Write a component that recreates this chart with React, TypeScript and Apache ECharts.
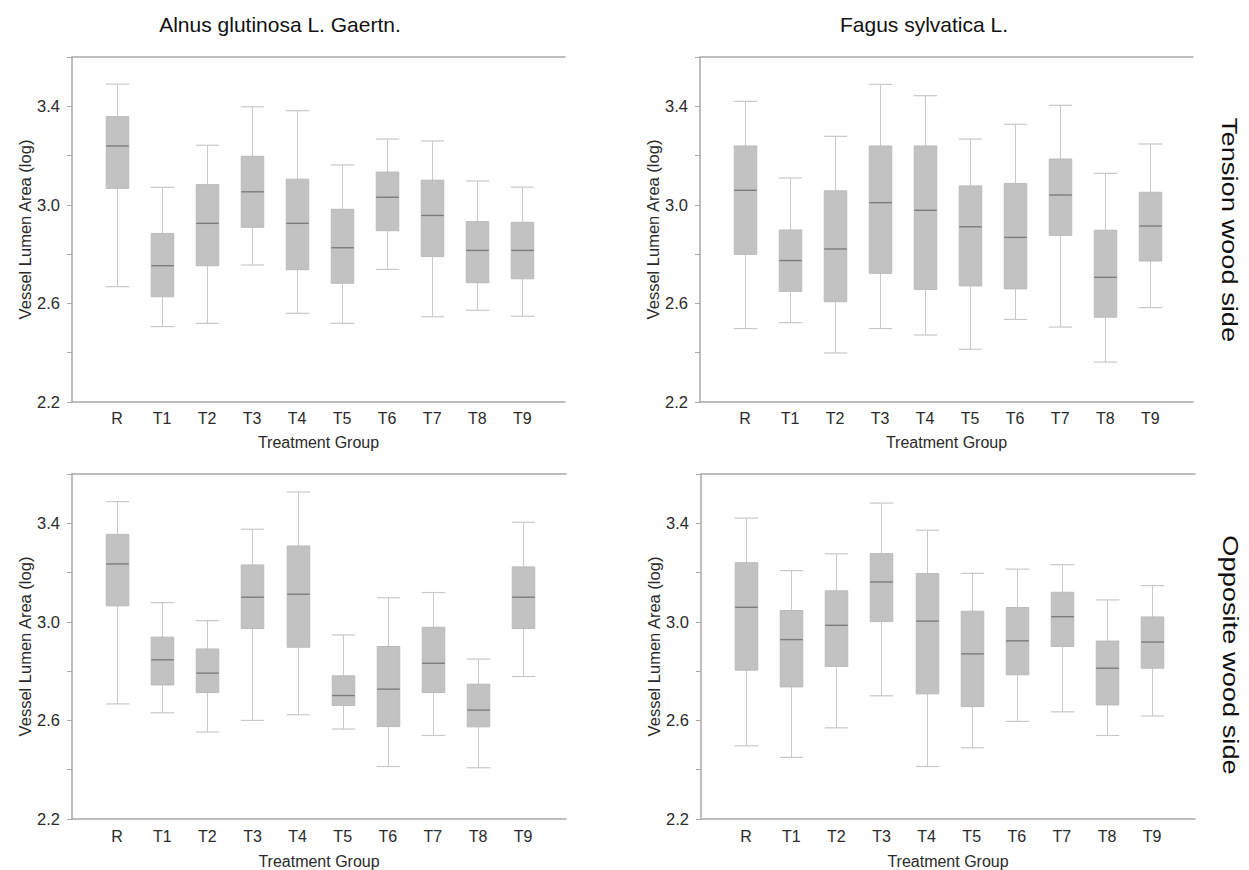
import React, { useEffect, useRef } from "react";
import * as echarts from "echarts";

const categories = ["R", "T1", "T2", "T3", "T4", "T5", "T6", "T7", "T8", "T9"];
const yTickLabels = [2.2, 2.6, 3.0, 3.4];
const panelTitles = ["Alnus glutinosa L. Gaertn.", "Fagus sylvatica L."];
const rowLabels = ["Tension wood side", "Opposite wood side"];
const xAxisName = "Treatment Group";
const yAxisName = "Vessel Lumen Area (log)";

// each entry: [min, Q1, median, Q3, max]
const alnusTension = [
  [2.668, 3.067, 3.239, 3.358, 3.49],
  [2.506, 2.627, 2.753, 2.884, 3.071],
  [2.519, 2.753, 2.925, 3.082, 3.242],
  [2.756, 2.909, 3.053, 3.197, 3.398],
  [2.56, 2.737, 2.925, 3.104, 3.382],
  [2.519, 2.682, 2.826, 2.982, 3.162],
  [2.738, 2.895, 3.031, 3.133, 3.267],
  [2.546, 2.79, 2.957, 3.1, 3.259],
  [2.572, 2.684, 2.815, 2.932, 3.097],
  [2.548, 2.7, 2.815, 2.929, 3.072],
];
const fagusTension = [
  [2.498, 2.799, 3.059, 3.239, 3.42],
  [2.522, 2.649, 2.774, 2.898, 3.109],
  [2.399, 2.607, 2.821, 3.057, 3.278],
  [2.498, 2.722, 3.009, 3.239, 3.489],
  [2.472, 2.657, 2.978, 3.239, 3.443],
  [2.414, 2.671, 2.911, 3.077, 3.267],
  [2.535, 2.659, 2.868, 3.087, 3.327],
  [2.504, 2.876, 3.04, 3.186, 3.404],
  [2.362, 2.544, 2.706, 2.897, 3.128],
  [2.583, 2.772, 2.914, 3.051, 3.247],
];
const alnusOpposite = [
  [2.667, 3.065, 3.235, 3.355, 3.488],
  [2.631, 2.744, 2.846, 2.938, 3.078],
  [2.553, 2.713, 2.792, 2.89, 3.005],
  [2.6, 2.973, 3.1, 3.231, 3.376],
  [2.623, 2.897, 3.112, 3.308, 3.527],
  [2.565, 2.661, 2.701, 2.781, 2.947],
  [2.413, 2.575, 2.727, 2.9, 3.098],
  [2.539, 2.713, 2.832, 2.978, 3.119],
  [2.408, 2.574, 2.642, 2.747, 2.849],
  [2.778, 2.973, 3.1, 3.223, 3.404],
];
const fagusOpposite = [
  [2.497, 2.804, 3.059, 3.24, 3.421],
  [2.45, 2.736, 2.928, 3.046, 3.208],
  [2.57, 2.819, 2.986, 3.126, 3.276],
  [2.7, 3.001, 3.162, 3.277, 3.482],
  [2.413, 2.708, 3.003, 3.196, 3.372],
  [2.489, 2.656, 2.87, 3.043, 3.197],
  [2.596, 2.785, 2.923, 3.058, 3.214],
  [2.635, 2.9, 3.021, 3.12, 3.232],
  [2.539, 2.663, 2.812, 2.922, 3.089],
  [2.618, 2.812, 2.918, 3.02, 3.147],
];

const panels = [alnusTension, fagusTension, alnusOpposite, fagusOpposite];

const FONT = "'Liberation Sans', Arial, Helvetica, sans-serif";
const AXIS_COLOR = "#a9a9a9";
const TEXT_COLOR = "#2a2a2a";
const BOX_FILL = "#c2c2c2";
const MEDIAN_COLOR = "#7c7c7c";
const WHISKER_COLOR = "#c9c9c9";

const grids = [
  { left: 72, top: 57, width: 493, height: 345 },
  { left: 700, top: 57, width: 493, height: 345 },
  { left: 72, top: 474, width: 494, height: 345 },
  { left: 701, top: 474, width: 494, height: 345 },
];
const xNameGaps = [32, 32, 34, 34];
const xLabelMargins = [8, 8, 9, 9];

function renderBox(params: any, api: any) {
  const x = api.value(0);
  const pMin = api.coord([x, api.value(1)]);
  const pQ1 = api.coord([x, api.value(2)]);
  const pMed = api.coord([x, api.value(3)]);
  const pQ3 = api.coord([x, api.value(4)]);
  const pMax = api.coord([x, api.value(5)]);
  const w = api.size([1, 0])[0] * 0.5;
  const cx = Math.round(pMed[0]) + 0.5;
  const capW = w * 1.04;
  return {
    type: "group",
    children: [
      {
        type: "line",
        shape: { x1: cx, y1: pMin[1], x2: cx, y2: pMax[1] },
        style: { stroke: WHISKER_COLOR, lineWidth: 1 },
      },
      {
        type: "line",
        shape: { x1: cx - capW / 2, y1: pMin[1], x2: cx + capW / 2, y2: pMin[1] },
        style: { stroke: WHISKER_COLOR, lineWidth: 1.2 },
      },
      {
        type: "line",
        shape: { x1: cx - capW / 2, y1: pMax[1], x2: cx + capW / 2, y2: pMax[1] },
        style: { stroke: WHISKER_COLOR, lineWidth: 1.2 },
      },
      {
        type: "rect",
        shape: { x: cx - w / 2, y: pQ3[1], width: w, height: pQ1[1] - pQ3[1] },
        style: { fill: BOX_FILL, stroke: "#bababa", lineWidth: 1 },
      },
      {
        type: "line",
        shape: { x1: cx - w / 2, y1: pMed[1], x2: cx + w / 2, y2: pMed[1] },
        style: { stroke: MEDIAN_COLOR, lineWidth: 1.4 },
      },
    ],
  };
}

function yLabel(v: number) {
  for (const t of yTickLabels) {
    if (Math.abs(v - t) < 1e-6) return t.toFixed(1);
  }
  return "";
}

function xLabel(v: number) {
  const i = Math.round(v);
  if (Math.abs(v - i) < 1e-6 && i >= 0 && i < categories.length) return categories[i];
  return "";
}

export default function App() {
  const ref = useRef<HTMLDivElement>(null);
  useEffect(() => {
    if (!ref.current) return;
    const chart = echarts.init(ref.current, null, { renderer: "svg" });

    const xAxes: any[] = [];
    const yAxes: any[] = [];
    const series: any[] = [];
    grids.forEach((g, i) => {
      xAxes.push({
        type: "value",
        gridIndex: i,
        min: -1,
        max: 9.95,
        interval: 1,
        position: "bottom",
        name: xAxisName,
        nameLocation: "middle",
        nameGap: xNameGaps[i],
        nameTextStyle: { fontFamily: FONT, fontSize: 16, color: TEXT_COLOR },
        axisLine: { show: true, onZero: false, lineStyle: { color: AXIS_COLOR, width: 1.5 } },
        axisTick: { show: false },
        splitLine: { show: false },
        axisLabel: {
          formatter: xLabel,
          fontFamily: FONT,
          fontSize: 16,
          color: TEXT_COLOR,
          margin: xLabelMargins[i],
          showMinLabel: false,
          showMaxLabel: false,
        },
      });
      yAxes.push({
        type: "value",
        gridIndex: i,
        min: 2.2,
        max: 3.6,
        interval: 0.2,
        name: yAxisName,
        nameLocation: "middle",
        nameGap: 38,
        nameTextStyle: { fontFamily: FONT, fontSize: 16.5, color: TEXT_COLOR },
        axisLine: { show: true, onZero: false, lineStyle: { color: AXIS_COLOR, width: 1.5 } },
        axisTick: { show: true, length: 5, lineStyle: { color: AXIS_COLOR } },
        splitLine: { show: false },
        axisLabel: {
          formatter: yLabel,
          fontFamily: FONT,
          fontSize: 16.5,
          color: TEXT_COLOR,
          margin: 12,
        },
      });
      series.push({
        type: "custom",
        xAxisIndex: i,
        yAxisIndex: i,
        renderItem: renderBox,
        encode: { x: 0, y: [1, 2, 3, 4, 5] },
        data: panels[i].map((d, k) => [k, ...d]),
        silent: true,
      });
    });
    // top frame lines
    grids.forEach((g, i) => {
      xAxes.push({
        type: "value",
        gridIndex: i,
        min: -1,
        max: 9.95,
        position: "top",
        axisLine: { show: true, onZero: false, lineStyle: { color: AXIS_COLOR, width: 1.5 } },
        axisTick: { show: false },
        axisLabel: { show: false },
        splitLine: { show: false },
      });
    });

    const graphic: any[] = [
      {
        type: "text",
        x: 280,
        y: 24,
        style: { text: panelTitles[0], font: `21px ${FONT}`, fill: "#111", textAlign: "center", textVerticalAlign: "middle" },
      },
      {
        type: "text",
        x: 924,
        y: 24,
        style: { text: panelTitles[1], font: `21px ${FONT}`, fill: "#111", textAlign: "center", textVerticalAlign: "middle" },
      },
      {
        type: "text",
        x: 1230,
        y: 230,
        rotation: -Math.PI / 2,
        scaleX: 1.24,
        style: { text: rowLabels[0], font: `22px ${FONT}`, fill: "#111", textAlign: "center", textVerticalAlign: "middle" },
      },
      {
        type: "text",
        x: 1231,
        y: 655,
        rotation: -Math.PI / 2,
        scaleX: 1.24,
        style: { text: rowLabels[1], font: `22px ${FONT}`, fill: "#111", textAlign: "center", textVerticalAlign: "middle" },
      },
    ];

    chart.setOption({
      animation: false,
      backgroundColor: "#ffffff",
      grid: grids,
      xAxis: xAxes,
      yAxis: yAxes,
      series,
      graphic,
    });
    return () => chart.dispose();
  }, []);
  return (
    <div
      ref={ref}
      style={{ position: "fixed", left: 0, top: 0, width: 1249, height: 870, background: "#fff" }}
    />
  );
}
